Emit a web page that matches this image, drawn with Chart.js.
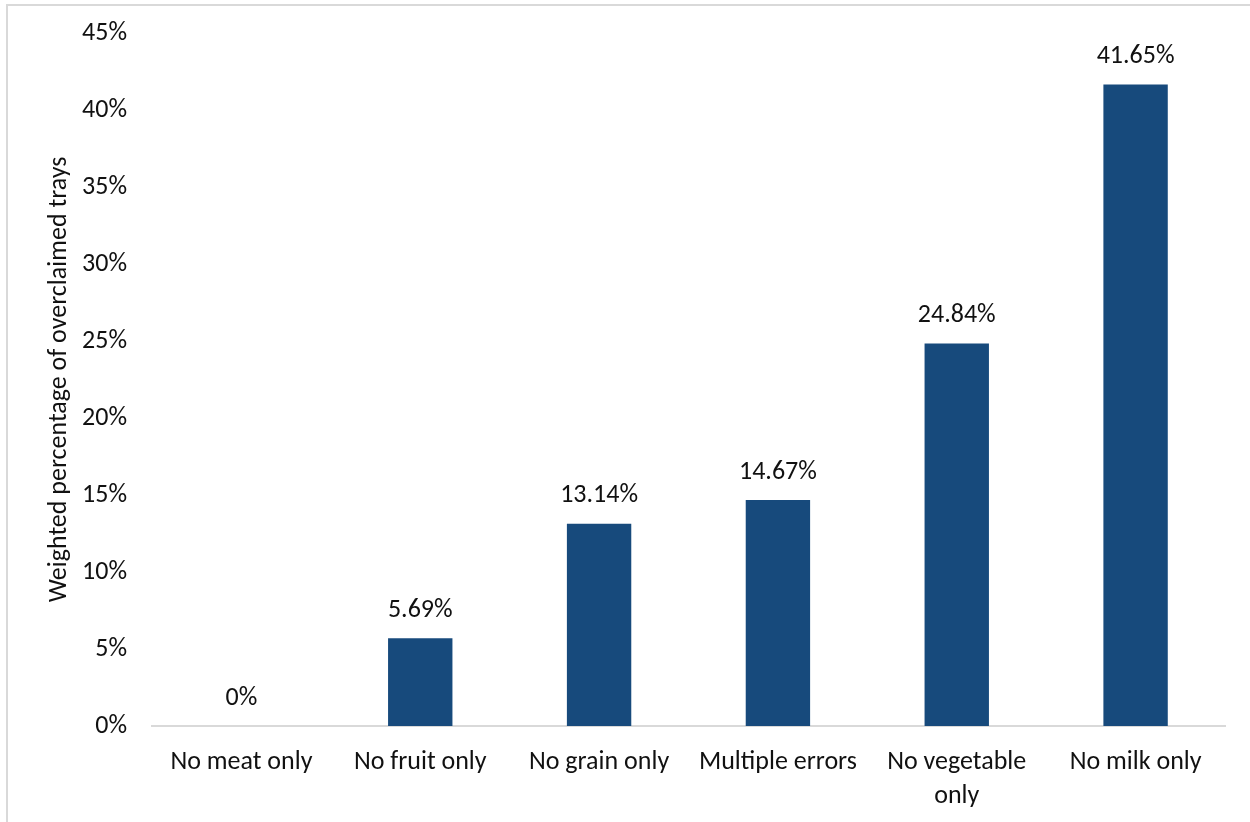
<!DOCTYPE html>
<html>
<head>
<meta charset="utf-8">
<script src="https://cdn.jsdelivr.net/npm/chart.js@4.4.1/dist/chart.umd.min.js"></script>
<style>
    html, body { margin: 0; padding: 0; background: #fff; }
    #wrap { position: relative; width: 1250px; height: 822px; overflow: hidden; }
    #frame { position: absolute; left: 6px; top: 4px; width: 1300px; height: 900px; border: 2px solid #d9d9d9; box-sizing: border-box; }
    canvas { position: absolute; left: 0; top: 0; }
</style>
</head>
<body>
<div id="wrap">
    <div id="frame"></div>
    <canvas id="myChart" width="1250" height="822"></canvas>
</div>
<script>
const categories = ['No meat only', 'No fruit only', 'No grain only', 'Multiple errors', ['No vegetable', 'only'], 'No milk only'];
const overclaimed = [0, 5.69, 13.14, 14.67, 24.84, 41.65];
const valueLabels = ['0%', '5.69%', '13.14%', '14.67%', '24.84%', '41.65%'];

const FONT = 'Carlito, Lato, sans-serif';
const SIZE = 26;
const TEXT = '#111';

// labels above each bar
const barLabels = {
    id: 'barLabels',
    afterDatasetsDraw(chart) {
        const ctx = chart.ctx;
        const meta = chart.getDatasetMeta(0);
        ctx.save();
        ctx.font = SIZE + 'px ' + FONT;
        ctx.fillStyle = TEXT;
        ctx.textAlign = 'center';
        ctx.textBaseline = 'middle';
        meta.data.forEach((bar, i) => {
            ctx.fillText(valueLabels[i], bar.x, bar.y - 28);
        });
        ctx.restore();
    }
};

const ctx = document.getElementById('myChart').getContext('2d');
const chart = new Chart(ctx, {
    type: 'bar',
    data: {
        labels: categories,
        datasets: [
            {
                data: overclaimed,
                backgroundColor: '#174a7c',
                categoryPercentage: 0.36,
                barPercentage: 1,
            },
        ],
    },
    options: {
        responsive: false,
        animation: false,
        layout: { padding: { top: 33, right: 25, bottom: 0, left: 0 } },
        plugins: {
            legend: { display: false },
            tooltip: { enabled: false },
        },
        scales: {
            x: {
                grid: { display: false },
                border: { color: '#d9d9d9', width: 2 },
                ticks: {
                    color: TEXT,
                    font: { family: FONT, size: SIZE, lineHeight: 1.3 },
                    padding: 12,
                    maxRotation: 0,
                    autoSkip: false,
                },
                afterFit: (s) => { s.height = 96; },
            },
            y: {
                min: 0,
                max: 45,
                grid: { display: false },
                border: { display: false },
                ticks: {
                    stepSize: 5,
                    color: TEXT,
                    padding: 17,
                    font: { family: FONT, size: SIZE },
                    callback: (v) => v + '%',
                },
                title: {
                    display: true,
                    text: 'Weighted percentage of overclaimed trays',
                    color: TEXT,
                    padding: { top: 44, bottom: 0 },
                    font: { family: FONT, size: SIZE },
                },
                afterFit: (s) => { s.width = 152; },
            },
        },
    },
    plugins: [barLabels],
});
</script>
</body>
</html>
